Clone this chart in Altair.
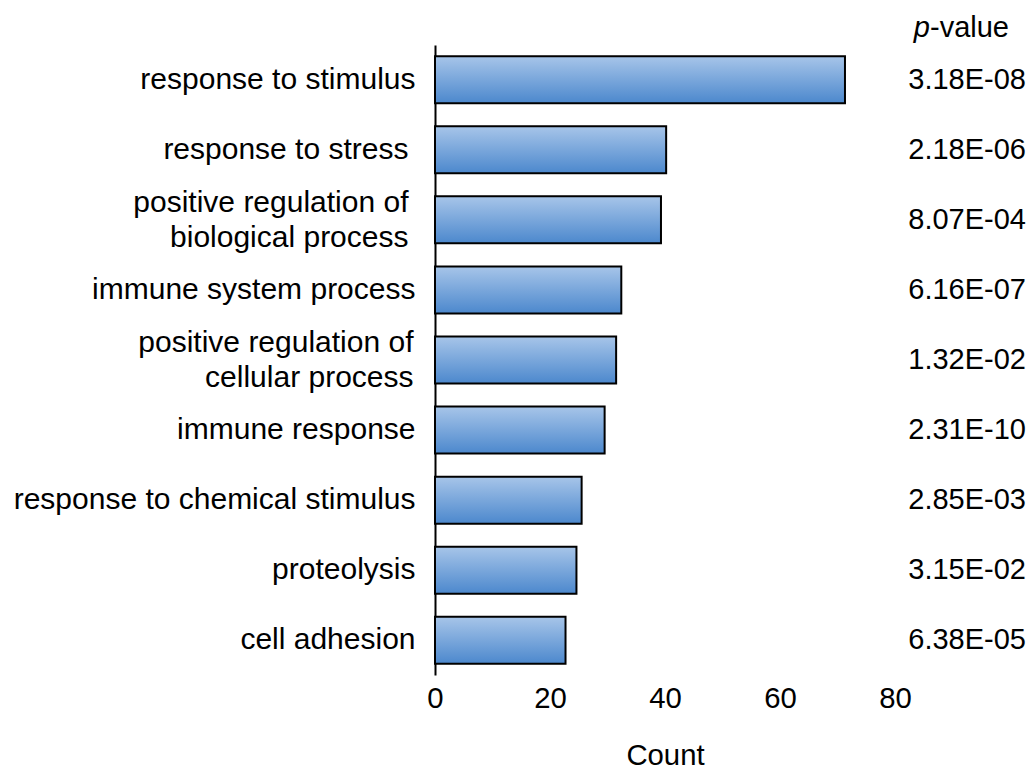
import altair as alt
import pandas as pd

categories = [
    "response to stimulus",
    "response to stress",
    "positive regulation of|biological process",
    "immune system process",
    "positive regulation of|cellular process",
    "immune response",
    "response to chemical stimulus",
    "proteolysis",
    "cell adhesion",
]
counts = [71.3, 40.2, 39.3, 32.4, 31.5, 29.5, 25.5, 24.6, 22.7]
pvalues = ["3.18E-08", "2.18E-06", "8.07E-04", "6.16E-07", "1.32E-02",
           "2.31E-10", "2.85E-03", "3.15E-02", "6.38E-05"]
x_ticks = [0, 20, 40, 60, 80]
header_italic = "p"
header_rest = "-value"

df = pd.DataFrame({"term": categories, "count": counts, "p": pvalues})
FONT = "Liberation Sans"
FS = 29.3
FSY = 30
FSP = 29

yscale = alt.Scale(domain=categories, paddingInner=0.33, paddingOuter=0.16)

wide_pad = ("datum.value == 'response to stress' || "
            "datum.value == 'positive regulation of|biological process'")
mid_pad = "datum.value == 'positive regulation of|cellular process'"

bars = alt.Chart(df).mark_bar(
    stroke="black", strokeWidth=2,
    color=alt.LinearGradient(
        gradient="linear", x1=0, y1=0, x2=0, y2=1,
        stops=[alt.GradientStop(color="#a7c5e9", offset=0),
               alt.GradientStop(color="#4c88cd", offset=1)],
    ),
).encode(
    x=alt.X("count:Q", scale=alt.Scale(domain=[0, 80], nice=False),
            axis=alt.Axis(values=x_ticks, title="Count", grid=False, ticks=False,
                          tickSize=0, domain=False, labelPadding=9, titlePadding=28,
                          labelFlush=False,
                          labelFontSize=FS, titleFontSize=FS, labelFont=FONT,
                          titleFont=FONT, titleFontWeight="normal",
                          labelColor="black", titleColor="black")),
    y=alt.Y("term:N", sort=categories, scale=yscale,
            axis=alt.Axis(title=None, grid=False, ticks=False, tickSize=0,
                          domain=True, domainColor="black", domainWidth=2,
                          labelPadding={"condition": [
                              {"test": wide_pad, "value": 27},
                              {"test": mid_pad, "value": 22}], "value": 20},
                          labelOffset={"condition": {
                              "test": "indexof(datum.value, '|') >= 0",
                              "value": -17}, "value": 0},
                          labelFontSize=FSY, labelFont=FONT,
                          labelColor="black", labelLimit=0, labelLineHeight=35,
                          labelExpr="split(datum.label, '|')")),
)

ptext = alt.Chart(df).mark_text(
    align="right", baseline="middle", font=FONT, fontSize=FSP, color="black"
).encode(
    y=alt.Y("term:N", sort=categories, scale=yscale),
    x=alt.value(591),
    text="p:N",
)

hdr1 = alt.Chart(pd.DataFrame({"t": [header_italic]})).mark_text(
    align="right", baseline="alphabetic", font=FONT, fontSize=FSP,
    fontStyle="italic", color="black"
).encode(x=alt.value(495), y=alt.value(-8), text="t:N")

hdr2 = alt.Chart(pd.DataFrame({"t": [header_rest]})).mark_text(
    align="left", baseline="alphabetic", font=FONT, fontSize=FSP, color="black"
).encode(x=alt.value(495), y=alt.value(-8), text="t:N")

chart = alt.layer(bars, ptext, hdr1, hdr2).properties(
    width=460, height=630,
    autosize=alt.AutoSizeParams(type="none"),
    padding={"left": 427, "top": 37, "right": 131, "bottom": 95},
).configure(background="white").configure_view(strokeWidth=0)

chart.save("out.html", embed_options={"renderer": "svg", "actions": False})
